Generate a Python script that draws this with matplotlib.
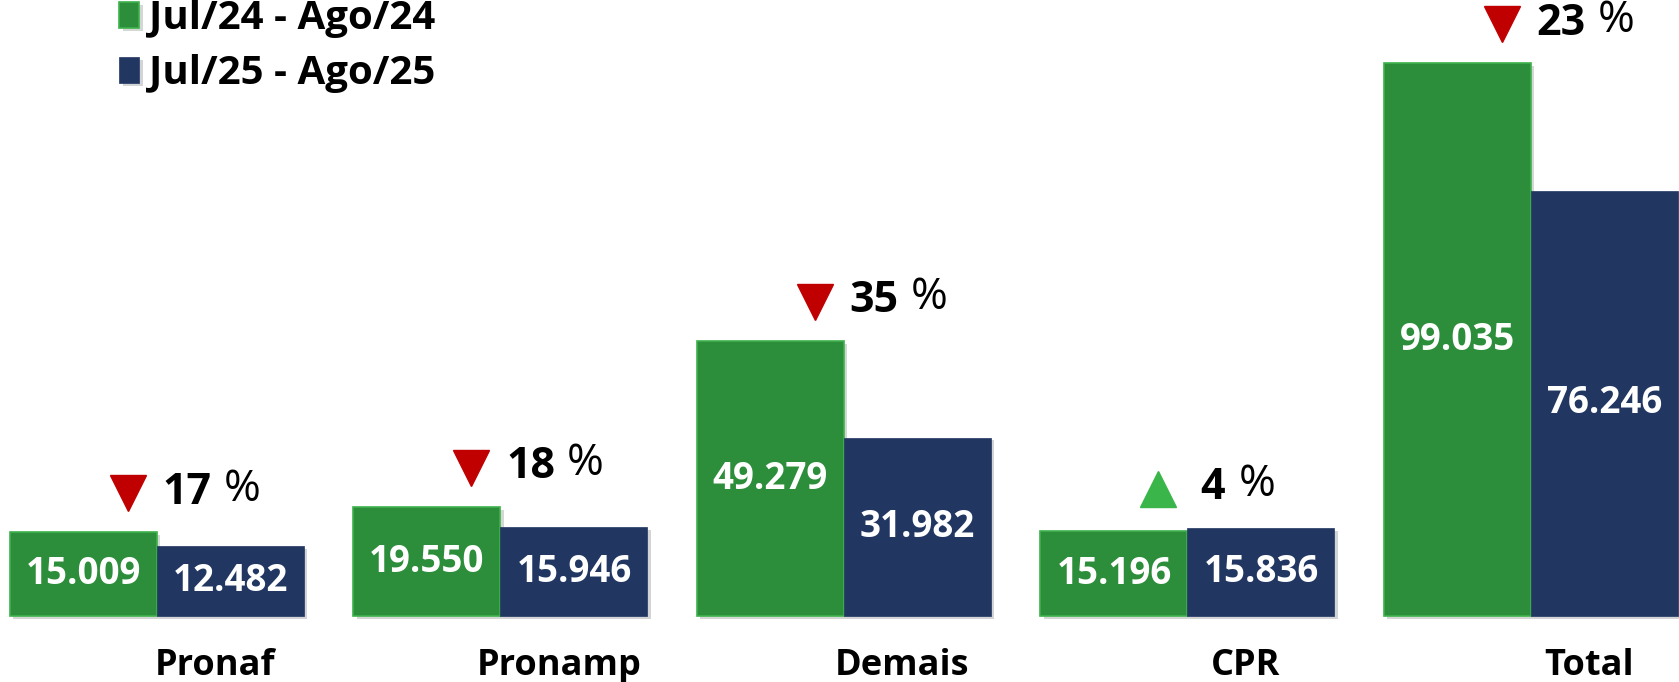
import matplotlib.pyplot as plt
import matplotlib.patheffects as pe
import numpy as np

# dados
categorias = ["Pronaf", "Pronamp", "Demais", "CPR", "Total"]
valores_24 = [15.009, 19.550, 49.279, 15.196, 99.035]
valores_25 = [12.482, 15.946, 31.982, 15.836, 76.246]
rotulos_24 = ["15.009", "19.550", "49.279", "15.196", "99.035"]
rotulos_25 = ["12.482", "15.946", "31.982", "15.836", "76.246"]
variacao = ["17", "18", "35", "4", "23"]
subiu = [False, False, False, True, False]
legenda = ["Jul/24 - Ago/24", "Jul/25 - Ago/25"]

verde = "#2C8E3A"
verde_borda = "#3DB24B"
azul = "#213762"
vermelho = "#C00000"
verde_seta = "#3AB54A"

plt.rcParams['font.family'] = ['Open Sans', 'DejaVu Sans']

fig = plt.figure(figsize=(16.79, 6.82), dpi=100)
ax = fig.add_axes([0, 0, 1, 1])
ax.axis("off")

x = np.arange(len(categorias))
w = 0.428

sombra = [pe.SimplePatchShadow(offset=(2.5, -2), alpha=0.18), pe.Normal()]
b1 = ax.bar(x - w / 2, valores_24, w, color=verde, edgecolor=verde_borda, linewidth=1.2, label=legenda[0])
b2 = ax.bar(x + w / 2, valores_25, w, color=azul, edgecolor=azul, linewidth=0.5, label=legenda[1])
for b in list(b1) + list(b2):
    b.set_path_effects(sombra)

ax.set_xlim(-0.457, 4.431)
ax.set_ylim(-11.8, 110.4)

# rotulos dentro das barras
for i in range(len(categorias)):
    ax.text(x[i] - w / 2, valores_24[i] / 2, rotulos_24[i], color="white", fontsize=26.5,
            fontweight="bold", ha="center", va="center")
    ax.text(x[i] + w / 2, valores_25[i] / 2, rotulos_25[i], color="white", fontsize=26.5,
            fontweight="bold", ha="center", va="center")

# variacao percentual
for i in range(len(categorias)):
    topo = max(valores_24[i], valores_25[i])
    if subiu[i]:
        ax.plot(x[i] - 0.085, topo + 7.0, marker="^", markersize=26, color=verde_seta, linestyle="none")
    else:
        ax.plot(x[i] - 0.085, topo + 7.0, marker="v", markersize=26, color=vermelho, linestyle="none")
    ax.annotate(variacao[i], xy=(x[i], topo), xytext=(4 + 5 * (len(variacao[i]) == 1), 29), textcoords="offset points",
                fontsize=31, fontweight="bold", ha="left", va="center")
    ax.annotate("%", xy=(x[i], topo), xytext=(26 + 11 * len(variacao[i]), 31), textcoords="offset points",
                fontsize=32, fontweight="normal", ha="left", va="center")

# nomes das categorias
for i in range(len(categorias)):
    ax.text(x[i] + 0.17, -9.0, categorias[i], fontsize=26, fontweight="bold", ha="center", va="center")

# legenda
ax.legend(loc="upper left", bbox_to_anchor=(0.059, 1.031), frameon=False,
          prop={"weight": "bold", "size": 29}, handlelength=0.5, handleheight=0.62,
          handletextpad=0.25, labelspacing=0.4, borderpad=0)

plt.savefig("out.png", dpi=100)
